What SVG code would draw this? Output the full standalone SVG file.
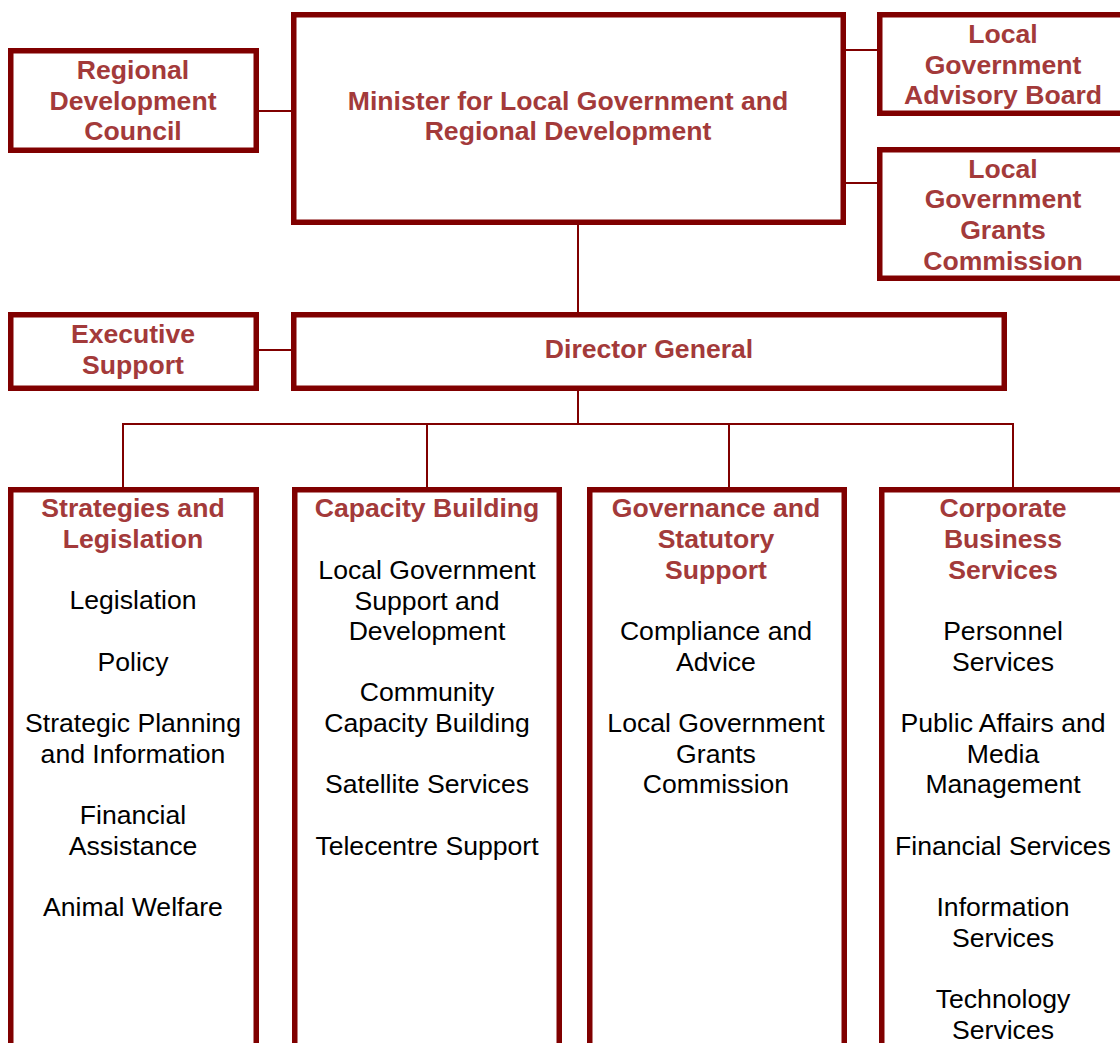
<svg xmlns="http://www.w3.org/2000/svg" width="1120" height="1043" viewBox="0 0 1120 1043">
  <style>
    .box { fill: #ffffff; stroke: #800000; stroke-width: 5.5; }
    .conn line { stroke: #800000; stroke-width: 2; }
    text { font-family: "Liberation Sans", Arial, sans-serif; font-size: 26.6px; text-anchor: middle; }
    .head { fill: #a33a3a; font-weight: bold; }
    .item { fill: #000000; }
  </style>
  <rect width="1120" height="1043" fill="#ffffff"/>

  <!-- connectors -->
  <g id="connectors" class="conn">
    <line x1="259" y1="111" x2="292" y2="111"/>
    <line x1="846" y1="50" x2="878" y2="50"/>
    <line x1="846" y1="183" x2="878" y2="183"/>
    <line x1="578" y1="225" x2="578" y2="312"/>
    <line x1="259" y1="350" x2="292" y2="350"/>
    <line x1="578" y1="391" x2="578" y2="424"/>
    <line x1="122" y1="424" x2="1014" y2="424"/>
    <line x1="123" y1="423" x2="123" y2="488"/>
    <line x1="427" y1="423" x2="427" y2="488"/>
    <line x1="729" y1="423" x2="729" y2="488"/>
    <line x1="1013" y1="423" x2="1013" y2="488"/>
  </g>

  <g id="regional-development-council">
    <rect class="box" x="10.75" y="50.75" width="245.5" height="99.5"/>
    <text class="head" x="133" y="79">Regional</text>
    <text class="head" x="133" y="110">Development</text>
    <text class="head" x="133" y="140">Council</text>
  </g>

  <g id="minister">
    <rect class="box" x="293.75" y="14.75" width="549.5" height="207.5"/>
    <text class="head" x="568" y="110">Minister for Local Government and</text>
    <text class="head" x="568" y="140">Regional Development</text>
  </g>

  <g id="advisory-board">
    <rect class="box" x="879.75" y="14.75" width="260" height="98.5"/>
    <text class="head" x="1003" y="43">Local</text>
    <text class="head" x="1003" y="74">Government</text>
    <text class="head" x="1003" y="104">Advisory Board</text>
  </g>

  <g id="grants-commission">
    <rect class="box" x="879.75" y="149.75" width="260" height="128.5"/>
    <text class="head" x="1003" y="178">Local</text>
    <text class="head" x="1003" y="208">Government</text>
    <text class="head" x="1003" y="239">Grants</text>
    <text class="head" x="1003" y="270">Commission</text>
  </g>

  <g id="executive-support">
    <rect class="box" x="10.75" y="314.75" width="245.5" height="73.5"/>
    <text class="head" x="133" y="343">Executive</text>
    <text class="head" x="133" y="374">Support</text>
  </g>

  <g id="director-general">
    <rect class="box" x="293.75" y="314.75" width="710.5" height="73.5"/>
    <text class="head" x="649" y="358">Director General</text>
  </g>

  <g id="strategies-legislation">
    <rect class="box" x="10.75" y="489.75" width="245.5" height="600"/>
    <text class="head" x="133" y="517">Strategies and</text>
    <text class="head" x="133" y="548">Legislation</text>
    <text class="item" x="133" y="609">Legislation</text>
    <text class="item" x="133" y="671">Policy</text>
    <text class="item" x="133" y="732">Strategic Planning</text>
    <text class="item" x="133" y="763">and Information</text>
    <text class="item" x="133" y="824">Financial</text>
    <text class="item" x="133" y="855">Assistance</text>
    <text class="item" x="133" y="916">Animal Welfare</text>
  </g>

  <g id="capacity-building">
    <rect class="box" x="294.75" y="489.75" width="264.5" height="600"/>
    <text class="head" x="427" y="517">Capacity Building</text>
    <text class="item" x="427" y="579">Local Government</text>
    <text class="item" x="427" y="610">Support and</text>
    <text class="item" x="427" y="640">Development</text>
    <text class="item" x="427" y="701">Community</text>
    <text class="item" x="427" y="732">Capacity Building</text>
    <text class="item" x="427" y="793">Satellite Services</text>
    <text class="item" x="427" y="855">Telecentre Support</text>
  </g>

  <g id="governance-statutory-support">
    <rect class="box" x="589.75" y="489.75" width="254.5" height="600"/>
    <text class="head" x="716" y="517">Governance and</text>
    <text class="head" x="716" y="548">Statutory</text>
    <text class="head" x="716" y="579">Support</text>
    <text class="item" x="716" y="640">Compliance and</text>
    <text class="item" x="716" y="671">Advice</text>
    <text class="item" x="716" y="732">Local Government</text>
    <text class="item" x="716" y="763">Grants</text>
    <text class="item" x="716" y="793">Commission</text>
  </g>

  <g id="corporate-business-services">
    <rect class="box" x="881.75" y="489.75" width="300" height="600"/>
    <text class="head" x="1003" y="517">Corporate</text>
    <text class="head" x="1003" y="548">Business</text>
    <text class="head" x="1003" y="579">Services</text>
    <text class="item" x="1003" y="640">Personnel</text>
    <text class="item" x="1003" y="671">Services</text>
    <text class="item" x="1003" y="732">Public Affairs and</text>
    <text class="item" x="1003" y="763">Media</text>
    <text class="item" x="1003" y="793">Management</text>
    <text class="item" x="1003" y="855">Financial Services</text>
    <text class="item" x="1003" y="916">Information</text>
    <text class="item" x="1003" y="947">Services</text>
    <text class="item" x="1003" y="1008">Technology</text>
    <text class="item" x="1003" y="1039">Services</text>
  </g>
</svg>
